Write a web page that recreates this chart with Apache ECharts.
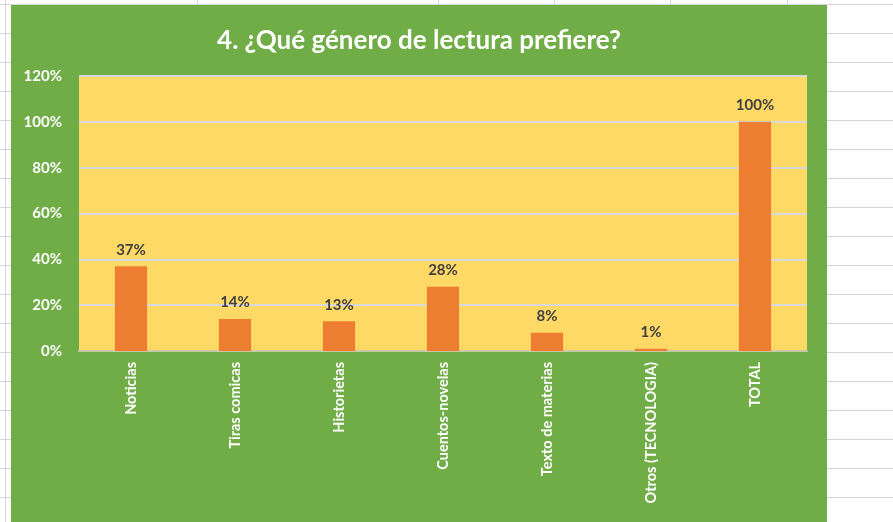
<!DOCTYPE html>
<html>
<head>
<meta charset="utf-8">
<script src="https://cdn.jsdelivr.net/npm/echarts@6/dist/echarts.min.js"></script>
<style>
  html, body { margin: 0; padding: 0; }
  body {
    width: 893px; height: 522px; position: relative; overflow: hidden;
    background-color: #fff;
    background-image: repeating-linear-gradient(to bottom, transparent 0, transparent 4px, #d4d4d4 4px, #d4d4d4 5px, transparent 5px, transparent 29px);
  }
  .vline { position: absolute; top: 0; width: 1px; height: 6px; background: #d4d4d4; }
  #chart { position: absolute; left: 11px; top: 5px; width: 816px; height: 517px; }
</style>
</head>
<body>
<div class="vline" style="left:5px;height:522px"></div>
<div class="vline" style="left:197px"></div>
<div class="vline" style="left:438px"></div>
<div class="vline" style="left:554px"></div>
<div class="vline" style="left:670px"></div>
<div class="vline" style="left:787px"></div>
<div id="chart"></div>
<script>
const title = '4. ¿Qué género de lectura prefiere?';
const categories = ['Noticias', 'Tiras comicas', 'Historietas', 'Cuentos-novelas', 'Texto de materias', 'Otros (TECNOLOGIA)', 'TOTAL'];
const values = [0.37, 0.14, 0.13, 0.28, 0.08, 0.01, 1.00];
const yTicks = [0, 0.2, 0.4, 0.6, 0.8, 1.0, 1.2];

const chart = echarts.init(document.getElementById('chart'));
const font = 'Lato, "Open Sans", sans-serif';

chart.setOption({
  backgroundColor: '#70AD47',
  animation: false,
  title: {
    text: title,
    left: 'center',
    top: 18,
    textStyle: { color: '#fff', fontSize: 26, fontWeight: 'bold', fontFamily: font }
  },
  grid: {
    left: 68, right: 20, top: 71, bottom: 171,
    show: true, backgroundColor: '#FFD966', borderWidth: 0
  },
  xAxis: {
    type: 'category',
    data: categories,
    axisLine: { lineStyle: { color: '#c9c9a8', width: 2 } },
    axisTick: { show: false },
    axisLabel: {
      rotate: 90, color: '#fff', fontSize: 14.5, fontWeight: 'bold',
      fontFamily: font, margin: 11, interval: 0
    }
  },
  yAxis: {
    type: 'value',
    min: yTicks[0], max: yTicks[yTicks.length - 1], interval: 0.2,
    axisLine: { show: false },
    axisTick: { show: false },
    splitLine: { lineStyle: { color: '#d9d9d9', width: 2 } },
    axisLabel: {
      color: '#fff', fontSize: 15, fontWeight: 'bold', fontFamily: font, margin: 17,
      formatter: v => Math.round(v * 100) + '%'
    }
  },
  series: [{
    type: 'bar',
    data: values,
    barWidth: '31%',
    itemStyle: { color: '#ED7D31' },
    label: {
      show: true, position: 'top', distance: 9,
      color: '#404040', fontSize: 15, fontWeight: 'bold', fontFamily: font,
      formatter: p => Math.round(p.value * 100) + '%'
    }
  }]
});
</script>
</body>
</html>
